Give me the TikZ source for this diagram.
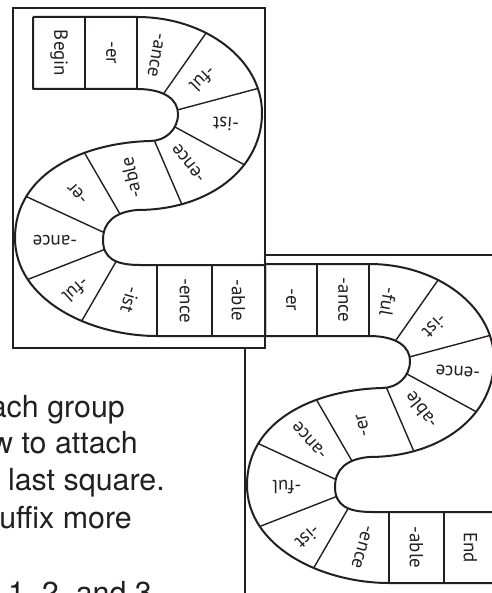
\documentclass[tikz,border=0pt]{standalone}
\usepackage{fontspec}
\setmainfont{TeX Gyre Heros}
\newfontfamily\cellfont{PT Sans}
\definecolor{ink}{HTML}{231F20}
\newcommand\suffixname[1]{\ifcase#1 -er\or -ance\or -ful\or -ist\or -ence\or -able\fi}
\newcommand\drawgameboard[1]{%
  \draw[boardframe] (13,8) rectangle (265,348);
  \draw[trackline] (33,17) -- (137,17)
    .. controls (206,17) and (262,60) .. coordinate[pos=0.37] (#1o1) coordinate[pos=0.84] (#1o2) (262,113)
    .. controls (262,168) and (210,210) .. coordinate[pos=0.35] (#1o3) coordinate[pos=0.78] (#1o4) (137,210)
    .. controls (115,212) and (103,222) .. coordinate[pos=0.3] (#1o5) coordinate[pos=0.85] (#1o6) (103,240)
    .. controls (103,258) and (115,265) .. coordinate[pos=0.2] (#1o7) coordinate[pos=0.6] (#1o8) (140,265)
    -- (265,265);
  \draw[trackline] (33,17) -- (33,89) -- (137,89)
    .. controls (165,89) and (178,100) .. coordinate[pos=0.4] (#1i1) coordinate[pos=0.9] (#1i2) (178,114)
    .. controls (178,130) and (165,141) .. coordinate[pos=0.3] (#1i3) coordinate[pos=0.9] (#1i4) (150,141)
    .. controls (80,143) and (15,175) .. coordinate[pos=0.33] (#1i5) coordinate[pos=0.75] (#1i6) (15,238)
    .. controls (15,300) and (90,336) .. coordinate[pos=0.25] (#1i7) coordinate[pos=0.62] (#1i8) (157,336)
    -- (265,336) -- (265,265);
  \coordinate (#1t1) at (85,17);  \coordinate (#1b1) at (85,89);
  \coordinate (#1t2) at (137,17); \coordinate (#1b2) at (137,89);
  \coordinate (#1t3) at (157,265); \coordinate (#1b3) at (157,336);
  \coordinate (#1t4) at (212,265); \coordinate (#1b4) at (212,336);
  \draw[divider] (#1t1) -- (#1b1);
  \draw[divider] (#1t2) -- (#1b2);
  \draw[divider] (#1o1) -- (#1i1);
  \draw[divider] (#1o2) -- (#1i2);
  \draw[divider] (#1o3) -- (#1i3);
  \draw[divider] (#1o4) -- (#1i4);
  \draw[divider] (#1o5) -- (#1i5);
  \draw[divider] (#1o6) -- (#1i6);
  \draw[divider] (#1o7) -- (#1i7);
  \draw[divider] (#1o8) -- (#1i8);
  \draw[divider] (#1t3) -- (#1b3);
  \draw[divider] (#1t4) -- (#1b4);
}
\def\slotlist{59/53/-90, 111/53/-90, 156/55/-100, 203/79/-135, 226/124/177, 189/163/128, 131/178/103, 78/193/132, 55/240/180, 76/290/-138, 130/300/-106, 184.5/300.5/-90, 238.5/300.5/-90}

\begin{document}
\begin{tikzpicture}[x=1bp,y=-1bp,
  boardframe/.style={draw=ink, line width=2bp, fill=white},
  trackline/.style={draw=ink, line width=2bp, line join=round},
  divider/.style={draw=ink, line width=1.4bp, line cap=round},
  cell/.style={text=ink, font=\cellfont\fontsize{19}{19}\selectfont, inner sep=0pt},
  prose/.style={text=ink, font=\fontsize{30.5}{36}\selectfont, inner sep=0pt, anchor=base east}]
\useasboundingbox (0,0) rectangle (492,593);
\clip (0,0) rectangle (492,593);
\begin{scope}[shift={(232,247)}]
  \drawgameboard{b}
  \foreach \px/\py/\ang [count=\i] in \slotlist {
    \pgfmathtruncatemacro\k{mod(\i-1,6)}
    \node[cell, rotate=\ang] (bl\i) at (\px,\py) {\ifnum\i=13 End\else\suffixname{\k}\fi};
  }
\end{scope}
\drawgameboard{a}
\foreach \px/\py/\ang [count=\i] in \slotlist {
  \pgfmathtruncatemacro\k{mod(\i+4,6)}
  \node[cell, rotate=\ang] (al\i) at (\px,\py) {\ifnum\i=1 Begin\else\suffixname{\k}\fi};
}
\node[prose] (line1) at (125,417) {ach group};
\node[prose] (line2) at (138,453) {w to attach};
\node[prose] (line3) at (165,490) {last square.};
\node[prose] (line4) at (132,528) {uffix more};
\node[prose] (line6) at (152,603.5) {1, 2, and 3};
\end{tikzpicture}
\end{document}
